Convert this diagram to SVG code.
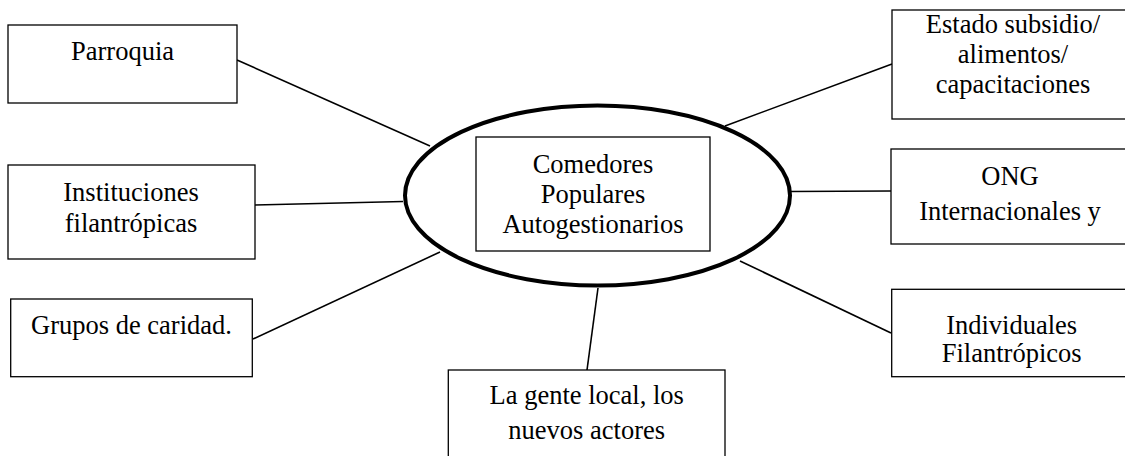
<svg xmlns="http://www.w3.org/2000/svg" width="1125" height="456" viewBox="0 0 1125 456">
<style>
.box{fill:#fff;stroke:#000;stroke-width:1.3}
.t{font-size:26.5px;fill:#000;text-anchor:middle}
.c{stroke:#000;stroke-width:1.6;fill:none}
</style>
<rect width="1125" height="456" fill="#fff"/>
<g id="connectors">
<line class="c" x1="237" y1="60" x2="430" y2="146"/>
<line class="c" x1="892" y1="64" x2="725" y2="126"/>
<line class="c" x1="255" y1="205" x2="403" y2="201.5"/>
<line class="c" x1="253" y1="339" x2="440" y2="252"/>
<line class="c" x1="790" y1="191.5" x2="891" y2="191"/>
<line class="c" x1="740" y1="261" x2="891" y2="333"/>
<line class="c" x1="598" y1="288" x2="587" y2="370"/>
</g>
<g font-family="'Liberation Serif', 'DejaVu Serif', serif">
<g id="center">
<ellipse cx="597.5" cy="195.5" rx="192.5" ry="90" fill="#fff" stroke="#000" stroke-width="4"/>
<rect class="box" x="476" y="137" width="234" height="114"/>
<text class="t" x="593" y="172.5">Comedores</text>
<text class="t" x="593" y="202.5">Populares</text>
<text class="t" x="593" y="233">Autogestionarios</text>
</g>
<g id="parroquia">
<rect class="box" x="8" y="25" width="229" height="78"/>
<text class="t" x="122.5" y="60">Parroquia</text>
</g>
<g id="instituciones">
<rect class="box" x="8" y="165" width="247" height="94"/>
<text class="t" x="131" y="200.5">Instituciones</text>
<text class="t" x="131" y="232">filantrópicas</text>
</g>
<g id="grupos">
<rect class="box" x="10.7" y="299" width="241.6" height="77.7"/>
<text class="t" x="131.5" y="333.5">Grupos de caridad.</text>
</g>
<g id="estado">
<rect class="box" x="892" y="10" width="243" height="109"/>
<text class="t" x="1013" y="33.3">Estado subsidio/</text>
<text class="t" x="1013" y="63.3">alimentos/</text>
<text class="t" x="1013" y="93.3">capacitaciones</text>
</g>
<g id="ong">
<rect class="box" x="891" y="149" width="240" height="95"/>
<text class="t" x="1010" y="185">ONG</text>
<text class="t" x="1010" y="220">Internacionales y</text>
</g>
<g id="individuales">
<rect class="box" x="891.7" y="289.3" width="245" height="87.4"/>
<text class="t" x="1011.7" y="334">Individuales</text>
<text class="t" x="1011.7" y="362.3">Filantrópicos</text>
</g>
<g id="gente">
<rect class="box" x="448.3" y="370" width="276.7" height="100"/>
<text class="t" x="586.7" y="404">La gente local, los</text>
<text class="t" x="586.7" y="439">nuevos actores</text>
</g>
</g>
</svg>
